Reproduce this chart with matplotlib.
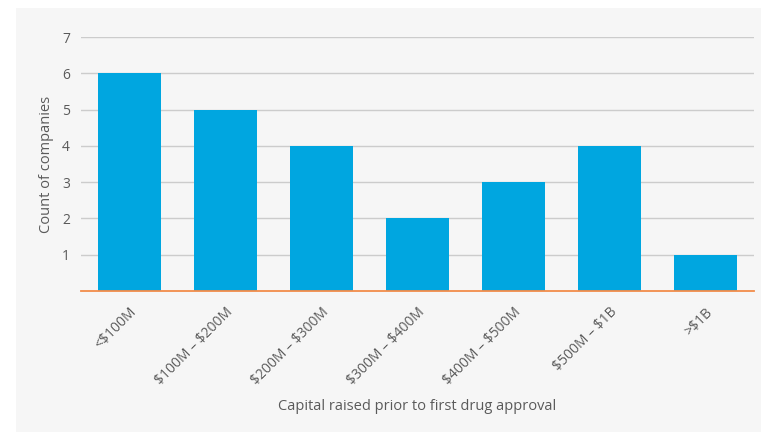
import matplotlib
matplotlib.use("Agg")
import matplotlib.pyplot as plt
from matplotlib.patches import Rectangle

categories = ["<$100M", "$100M – $200M", "$200M – $300M", "$300M – $400M",
              "$400M – $500M", "$500M – $1B", ">$1B"]
counts = [6, 5, 4, 2, 3, 4, 1]
y_ticks = [1, 2, 3, 4, 5, 6, 7]

plt.rcParams["font.family"] = ["Open Sans", "DejaVu Sans"]
plt.rcParams["text.parse_math"] = False
text_color = "#5a5a5a"

fig = plt.figure(figsize=(7.61, 4.32), dpi=100)
fig.patch.set_facecolor("white")
fig.patches.append(Rectangle((16 / 761, 0), 1 - 16 / 761, 1 - 8 / 432,
                             transform=fig.transFigure, facecolor="#f6f6f6",
                             edgecolor="none", zorder=-10))

ax = fig.add_axes([81 / 761, 1 - 291 / 432, (753.5 - 81) / 761, (291 - 37) / 432])
ax.set_facecolor("none")

x = range(len(categories))
ax.bar(x, counts, width=0.656, color="#00a6e0", zorder=3)

ax.set_xlim(-0.5, len(categories) - 0.5)
ax.set_ylim(0, 7)
ax.set_yticks(y_ticks)
ax.yaxis.grid(True, color="#cccccc", linewidth=1.0, zorder=1)
ax.set_axisbelow(True)

for side in ["top", "right", "left"]:
    ax.spines[side].set_visible(False)
ax.spines["bottom"].set_color("#f28c4a")
ax.spines["bottom"].set_linewidth(1.3)
ax.spines["bottom"].set_zorder(4)

ax.tick_params(axis="both", length=0, colors=text_color, labelsize=10)
ax.tick_params(axis="y", pad=8)
ax.set_xticks(list(x))
ax.set_xticklabels(categories, rotation=45, ha="right", rotation_mode="anchor")
ax.tick_params(axis="x", pad=10)

ax.set_ylabel("Count of companies", color=text_color, fontsize=10.5, labelpad=6)
ax.set_xlabel("Capital raised prior to first drug approval", color=text_color,
              fontsize=10.5, labelpad=8)

fig.savefig("out.png", dpi=100)
